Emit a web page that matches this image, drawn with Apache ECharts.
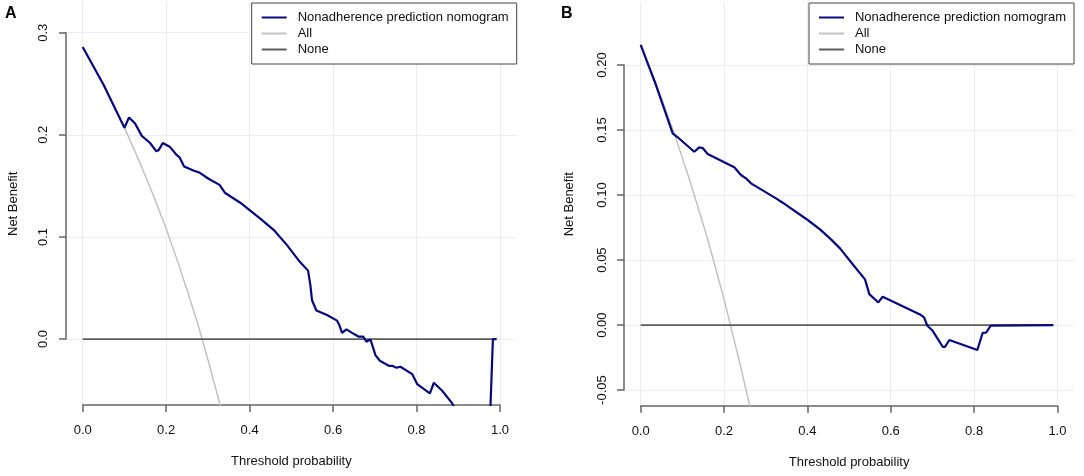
<!DOCTYPE html>
<html>
<head>
<meta charset="utf-8">
<script src="https://cdn.jsdelivr.net/npm/echarts@6/dist/echarts.min.js"></script>
<style>
  html, body { margin: 0; padding: 0; background: #fff; }
  #main { width: 1084px; height: 476px; }
</style>
</head>
<body>
<div id="main"></div>
<script>
var xTicks = [0, 0.2, 0.4, 0.6, 0.8, 1.0];
var yTicksA = [0, 0.1, 0.2, 0.3];
var yTicksB = [-0.05, 0, 0.05, 0.1, 0.15, 0.2];

var seriesNames = ['Nonadherence prediction nomogram', 'All', 'None'];

// panel A (threshold, net benefit)
var modelA = [
  [0, 0.286], [0.05, 0.249], [0.1, 0.207], [0.111, 0.217], [0.1255, 0.211],
  [0.1416, 0.199], [0.1615, 0.192], [0.176, 0.184], [0.182, 0.185], [0.192, 0.192],
  [0.2095, 0.188], [0.2256, 0.180], [0.232, 0.178], [0.243, 0.169], [0.2654, 0.165],
  [0.28, 0.163], [0.3015, 0.157], [0.328, 0.151], [0.3415, 0.143], [0.3775, 0.1335],
  [0.4255, 0.118], [0.4575, 0.107], [0.4896, 0.092], [0.5175, 0.077], [0.54, 0.067],
  [0.5455, 0.053], [0.5495, 0.038], [0.56, 0.028], [0.5855, 0.0235], [0.6095, 0.018],
  [0.615, 0.0137], [0.6215, 0.006], [0.632, 0.0095], [0.6455, 0.006], [0.6615, 0.0023],
  [0.672, 0.0023], [0.68, -0.0026], [0.6895, -0.0003], [0.7015, -0.0157], [0.712, -0.0213],
  [0.7335, -0.0262], [0.7415, -0.0262], [0.752, -0.0281], [0.7615, -0.0271], [0.7895, -0.0343],
  [0.8015, -0.0441], [0.832, -0.0532], [0.8415, -0.0428], [0.8615, -0.0506], [0.8855, -0.063],
  [0.9, -0.075], [0.93, -0.09], [0.96, -0.11], [0.975, -0.09], [0.983, 0], [0.992, 0]
];
var allA = [
  [0, 0.286], [0.05, 0.249], [0.1, 0.207], [0.125, 0.184], [0.15, 0.160], [0.175, 0.135],
  [0.2, 0.108], [0.225, 0.079], [0.25, 0.048], [0.275, 0.016], [0.3, -0.020],
  [0.325, -0.058], [0.35, -0.098]
];
var noneA = [[0, 0], [0.99, 0]];

// panel B
var modelB = [
  [0, 0.2154], [0.0367, 0.1846], [0.0768, 0.1474], [0.0888, 0.1444], [0.1286, 0.1333],
  [0.1406, 0.1367], [0.1488, 0.1362], [0.1608, 0.1315], [0.2246, 0.1213], [0.2407, 0.1154],
  [0.2527, 0.1128], [0.2647, 0.109], [0.3247, 0.0974], [0.3408, 0.0941], [0.4008, 0.0808],
  [0.4303, 0.0736], [0.4567, 0.0659], [0.4783, 0.059], [0.5102, 0.0462], [0.5383, 0.0351],
  [0.5486, 0.0238], [0.5702, 0.0174], [0.5807, 0.0218], [0.6703, 0.0082], [0.6799, 0.0059],
  [0.6879, -0.0005], [0.7007, -0.0044], [0.7247, -0.0167], [0.7302, -0.0167], [0.7406, -0.0115],
  [0.8078, -0.0192], [0.8207, -0.0059], [0.8287, -0.0059], [0.8399, -0.0005], [0.99, 0]
];
var allB = [
  [0, 0.216], [0.04, 0.183], [0.08, 0.148], [0.12, 0.109], [0.16, 0.067],
  [0.2, 0.020], [0.24, -0.032], [0.27, -0.074]
];
var noneB = [[0, 0], [0.99, 0]];

var FONT = 'Liberation Sans, Arial, sans-serif';
var AXIS_COL = '#666';
var GRID_COL = '#ececec';

// plot region (px) and user range of each panel, R style padding
var panels = [
  { box: { left: 66, top: 2.7, width: 450.7, height: 402.3 }, xr: [-0.04, 1.04], yr: [-0.0646, 0.3294],
    yTicks: yTicksA, yDigits: 1, yNameGap: 46, yMargin: 16, letter: 'A', letterLeft: 5, legendRight: 567.3,
    data: [modelA, allA, noneA] },
  { box: { left: 624, top: 2.7, width: 450.1, height: 403 }, xr: [-0.04, 1.04], yr: [-0.062, 0.2479],
    yTicks: yTicksB, yDigits: 2, yNameGap: 48, yMargin: 15, letter: 'B', letterLeft: 561, legendRight: 10,
    data: [modelB, allB, noneB] }
];

var grid = [], xAxis = [], yAxis = [], series = [], legend = [], title = [];

panels.forEach(function (p, i) {
  var b = p.box;
  var px = function (t) { return b.left + (t - p.xr[0]) / (p.xr[1] - p.xr[0]) * b.width; };
  var py = function (v) { return b.top + (p.yr[1] - v) / (p.yr[1] - p.yr[0]) * b.height; };
  var yLo = p.yTicks[0], yHi = p.yTicks[p.yTicks.length - 1];
  var tb = { left: px(0), top: py(yHi), width: px(1) - px(0), height: py(yLo) - py(yHi) };
  var g = 2 * i;

  grid.push({ left: b.left, top: b.top, width: b.width, height: b.height, containLabel: false, outerBoundsMode: 'none' });
  grid.push({ left: tb.left, top: tb.top, width: tb.width, height: tb.height, containLabel: false, outerBoundsMode: 'none' });

  // full plot region: grid lines, axis titles, data
  xAxis.push({
    gridIndex: g, type: 'value', min: p.xr[0], max: p.xr[1],
    axisLine: { show: false, onZero: false }, axisTick: { show: false, customValues: xTicks }, axisLabel: { show: false },
    splitLine: { show: true, lineStyle: { color: GRID_COL, width: 1 } },
    name: 'Threshold probability', nameLocation: 'middle', nameGap: 50,
    nameTextStyle: { fontFamily: FONT, fontSize: 13, color: '#111' }
  });
  yAxis.push({
    gridIndex: g, type: 'value', min: p.yr[0], max: p.yr[1],
    axisLine: { show: false, onZero: false }, axisTick: { show: false, customValues: p.yTicks }, axisLabel: { show: false },
    splitLine: { show: true, lineStyle: { color: GRID_COL, width: 1 } },
    name: 'Net Benefit', nameLocation: 'middle', nameGap: p.yNameGap,
    nameTextStyle: { fontFamily: FONT, fontSize: 13, color: '#111' }
  });

  // tick range axes, R style
  xAxis.push({
    gridIndex: g + 1, type: 'value', min: 0, max: 1, interval: 0.2,
    offset: (b.top + b.height) - (tb.top + tb.height),
    axisLine: { show: true, onZero: false, lineStyle: { color: AXIS_COL, width: 1.5 } },
    axisTick: { show: true, length: 7, lineStyle: { color: AXIS_COL, width: 1.5 } },
    axisLabel: { margin: 19, fontFamily: FONT, fontSize: 13, color: '#111',
      formatter: function (v) { return v.toFixed(1); } },
    splitLine: { show: false }
  });
  yAxis.push({
    gridIndex: g + 1, type: 'value', min: yLo, max: yHi, interval: p.yTicks[1] - p.yTicks[0],
    offset: tb.left - b.left,
    axisLine: { show: true, onZero: false, lineStyle: { color: AXIS_COL, width: 1.5 } },
    axisTick: { show: true, length: 7, lineStyle: { color: AXIS_COL, width: 1.5 } },
    axisLabel: { margin: p.yMargin, rotate: 90, fontFamily: FONT, fontSize: 13, color: '#111',
      formatter: function (v) { return v.toFixed(p.yDigits); } },
    splitLine: { show: false }
  });

  var styles = [
    { color: '#08087e', width: 2.2, z: 4 },
    { color: '#c2c2c2', width: 1.5, z: 2 },
    { color: '#5c5c5c', width: 1.8, z: 3 }
  ];
  [1, 2, 0].forEach(function (k) {
    series.push({
      name: seriesNames[k], type: 'line', xAxisIndex: g, yAxisIndex: g,
      data: p.data[k], showSymbol: false, symbol: 'none', clip: true,
      color: styles[k].color, z: styles[k].z,
      lineStyle: { color: styles[k].color, width: styles[k].width },
      emphasis: { disabled: true }
    });
  });

  legend.push({
    data: seriesNames, orient: 'vertical', right: p.legendRight, top: 3,
    icon: 'rect', itemWidth: 25, itemHeight: 2, itemGap: 3,
    padding: [8, 8, 8, 10], borderColor: '#444', borderWidth: 1, backgroundColor: '#fff',
    selectedMode: false,
    textStyle: { fontFamily: FONT, fontSize: 13, color: '#111', padding: [0, 0, 0, 6] }
  });

  title.push({
    text: p.letter, left: p.letterLeft, top: 6, padding: 0,
    textStyle: { fontFamily: FONT, fontSize: 16, fontWeight: 'bold', color: '#000' }
  });
});

var chartDom = document.getElementById('main');
var myChart = echarts.init(chartDom);
var option = {
  animation: false,
  backgroundColor: '#fff',
  title: title,
  legend: legend,
  grid: grid,
  xAxis: xAxis,
  yAxis: yAxis,
  series: series
};
myChart.setOption(option);
</script>
</body>
</html>
